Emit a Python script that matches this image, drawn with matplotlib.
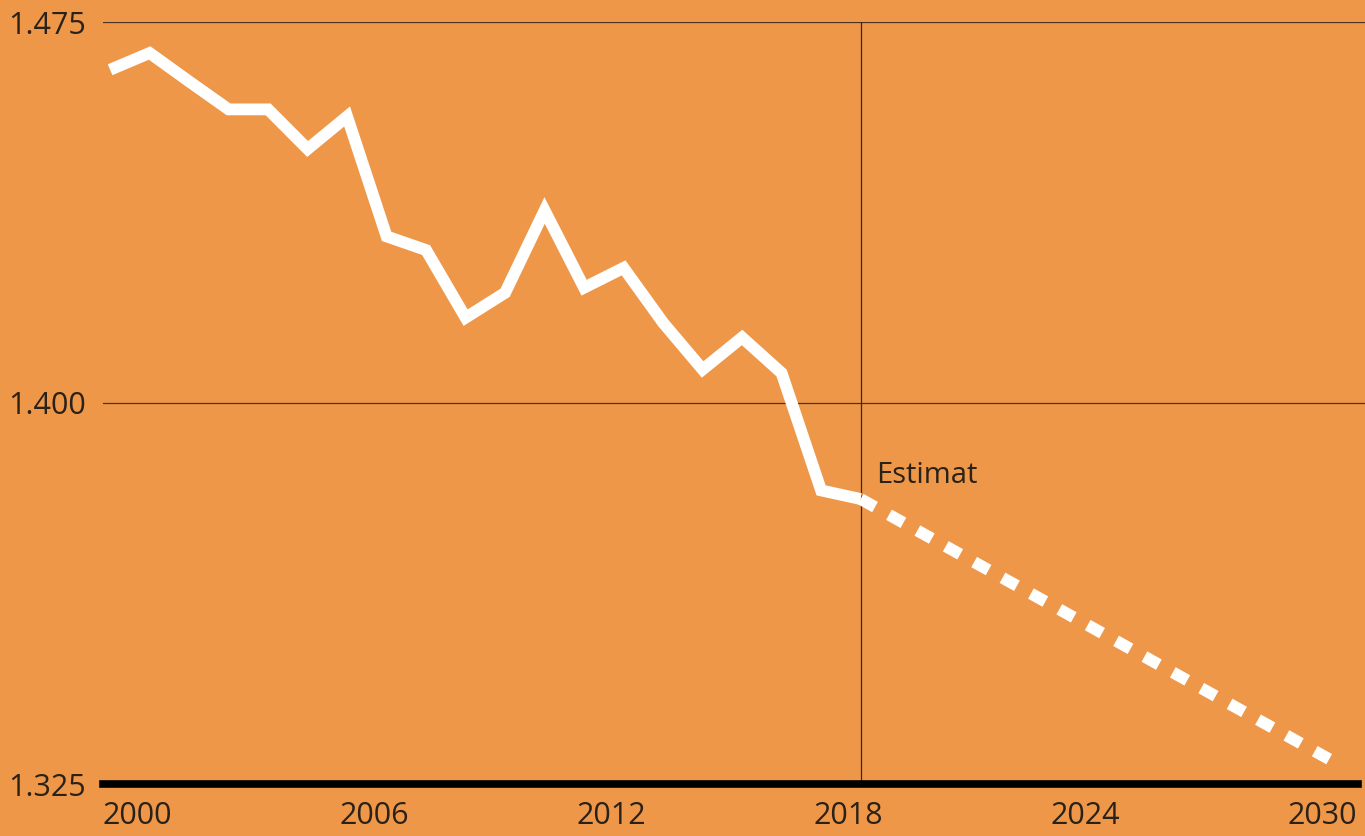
import matplotlib.pyplot as plt
import matplotlib.transforms as mtransforms

# data
years = list(range(1999, 2019))
values = [1.4656, 1.4689, 1.4633, 1.4578, 1.4578, 1.4500, 1.4564, 1.4328, 1.4301, 1.4168,
          1.4217, 1.4379, 1.4227, 1.4266, 1.4158, 1.4066, 1.4129, 1.4059, 1.3828, 1.3811]
est_years = [2018, 2030]
est_values = [1.3811, 1.3293]

xticks = [2000, 2006, 2012, 2018, 2024, 2030]
yticks = [1.325, 1.400, 1.475]
ylabels = ['1.325', '1.400', '1.475']

bg = '#EE9749'
txt = '#2a2118'

plt.rcParams['font.family'] = ['Open Sans', 'DejaVu Sans']

fig = plt.figure(figsize=(13.65, 8.36), dpi=100, facecolor=bg)
ax = fig.add_axes([103/1365, 52/836, 1262/1365, 762/836], facecolor=bg)

ax.plot(years, values, color='white', lw=8.5, solid_joinstyle='miter', solid_capstyle='butt', zorder=3)
ax.plot(est_years, est_values, color='white', lw=8.5, dashes=(1.4, 1.35), dash_capstyle='butt', zorder=3)

ax.set_xlim(1998.82, 2030.77)
ax.set_ylim(1.325, 1.475)

# grid lines
for y in yticks[1:]:
    ax.axhline(y, color='#4a3320', lw=0.9, zorder=1)
ax.axhline(1.325, xmax=(1358-103)/1262, color='black', lw=5.5, zorder=4, clip_on=False)
ax.axvline(2018, ymax=1, color='#3a2818', lw=0.9, zorder=2)

ax.text(2018.4, 1.3857, 'Estimat', fontsize=21, color=txt, ha='left', va='center')

ax.set_xticks(xticks)
ax.set_xticklabels([str(x) for x in xticks])
ax.set_yticks(yticks)
ax.set_yticklabels(ylabels)
ax.tick_params(length=0, labelsize=22, labelcolor=txt)
ax.tick_params(axis='x', pad=12)
ax.tick_params(axis='y', pad=12)

# shift year labels a bit to the left like the original
shift = mtransforms.ScaledTranslation(-12/100, 0, fig.dpi_scale_trans)
for lab in ax.get_xticklabels():
    lab.set_transform(lab.get_transform() + shift)

for s in ax.spines.values():
    s.set_visible(False)

fig.savefig('out.png', dpi=100, facecolor=bg)
